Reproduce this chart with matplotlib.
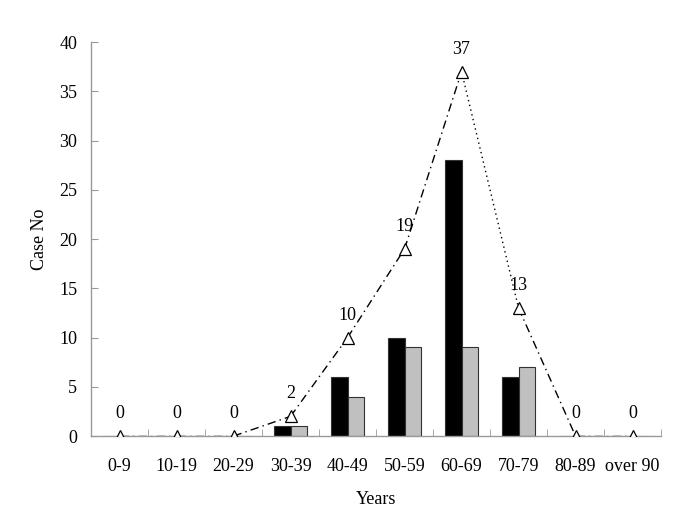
import numpy as np
import matplotlib
matplotlib.use("Agg")
import matplotlib.pyplot as plt

plt.rcParams['font.family'] = ['Liberation Serif', 'DejaVu Serif']

groups = ["0-9", "10-19", "20-29", "30-39", "40-49", "50-59",
          "60-69", "70-79", "80-89", "over 90"]
black_vals = [0, 0, 0, 1, 6, 10, 28, 6, 0, 0]
gray_vals = [0, 0, 0, 1, 4, 9, 9, 7, 0, 0]
totals = [0, 0, 0, 2, 10, 19, 37, 13, 0, 0]

fig = plt.figure(figsize=(6.85, 5.13), dpi=100)
ax = fig.add_axes([0.133, 0.150, 0.832, 0.768])

x = np.arange(len(groups))
w = 0.29
ax.bar(x - w / 2, black_vals, w, color="black", edgecolor="#333333", linewidth=0.8, zorder=2)
ax.bar(x + w / 2, gray_vals, w, color="#c0c0c0", edgecolor="#333333", linewidth=0.8, zorder=2)

# total line, dotted between 60-69 and 70-79, dash-dot elsewhere
for i in range(len(x) - 1):
    ls = (0, (1, 2.5)) if i == 6 else (0, (6, 3, 1, 3))
    ax.plot(x[i:i + 2], totals[i:i + 2], color="black", lw=1, linestyle=ls, zorder=3)
ax.plot(x, totals, linestyle="none", marker="^", markersize=8,
        markerfacecolor="white", markeredgecolor="black", markeredgewidth=0.9, zorder=4)
for xi, t in zip(x, totals):
    ax.annotate(str(t), (xi, t), xytext=(0, 10), textcoords="offset points",
                ha="center", va="bottom", fontsize=13)

ax.set_xlim(-0.5, len(groups) - 0.5)
ax.set_ylim(0, 40)
ax.set_yticks(range(0, 41, 5))
ax.set_xticks(x)
ax.set_xticklabels(groups)
ax.set_xticks(np.arange(-0.5, len(groups), 1), minor=True)
ax.tick_params(axis="x", which="major", length=0, pad=16, labelsize=13)
ax.tick_params(axis="x", which="minor", direction="in", length=5, color="#999999")
ax.tick_params(axis="y", direction="in", length=5, color="#999999", labelsize=13, pad=10)

for s in ["top", "right"]:
    ax.spines[s].set_visible(False)
for s in ["left", "bottom"]:
    ax.spines[s].set_color("#999999")
    ax.spines[s].set_linewidth(1)

ax.set_xlabel("Years", fontsize=13, labelpad=11)
ax.set_ylabel("Case No", fontsize=13, labelpad=8)

fig.savefig("out.png", dpi=100)
